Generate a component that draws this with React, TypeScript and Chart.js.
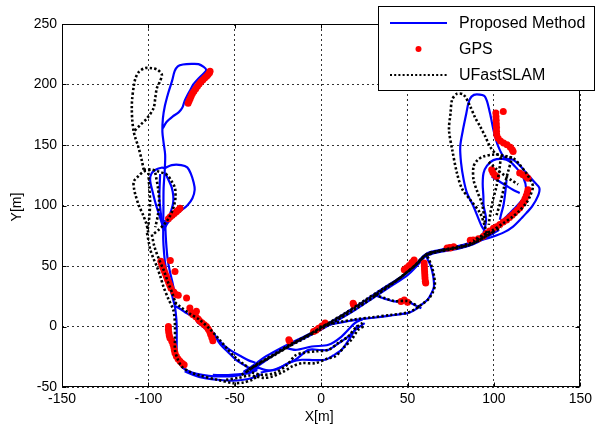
import React, { useEffect, useRef } from 'react';
import { Chart, registerables } from 'chart.js';
Chart.register(...registerables);

type P = [number, number];

// ---- axis / legend texts ----
const xTicks = [-150, -100, -50, 0, 50, 100, 150];
const yTicks = [-50, 0, 50, 100, 150, 200, 250];
const legendLabels = ['Proposed Method', 'GPS', 'UFastSLAM'];
const xTitle = 'X[m]';
const yTitle = 'Y[m]';

// ---- Proposed Method (blue) ----
const blueTopLoop: P[] = [[-91.5,80],[-91.3,95],[-91.2,114],[-90.5,130],[-90.3,142],[-91.2,152],[-91.9,161],[-91.6,172],[-90.5,182],[-88.5,193],[-86.3,203],[-84.8,211],[-83,215],[-80,216.5],[-75,217],[-71,216.8],[-68,214.5],[-66.5,212],[-68,209],[-71,205],[-74,200],[-75.5,196],[-77.5,191],[-79,186.5],[-80.3,181],[-82.5,177],[-86,173.5],[-89.5,169],[-91.6,164]];
const blueMidLoop: P[] = [[-90.4,131],[-86.5,133.4],[-81,133.4],[-77.5,131.5],[-75.5,126.5],[-73.8,119],[-73.2,113],[-74.5,106],[-77.5,100],[-81,96],[-84.5,92.5],[-87.5,88],[-90,83],[-91.3,79]];
const blueSmallLoop: P[] = [[-91.2,81],[-93,89],[-95.5,100],[-97.5,111],[-99,121],[-98.2,126.5],[-95.5,129.8],[-92.5,131.2],[-90.4,131]];
const blueInnerA: P[] = [[-93.2,126],[-93.5,115],[-93.6,106],[-93,96],[-92.2,87],[-91.5,80]];
const blueInnerB: P[] = [[-90.3,127],[-88,120],[-86.5,115],[-85.6,108],[-85.7,102],[-87,95],[-88.8,88],[-90.5,82]];
const blueLeftDownA: P[] = [[-91.4,80],[-91.4,72],[-91,62],[-90.3,52],[-89,42],[-87.5,33],[-85.8,23],[-84.6,16],[-83.8,6],[-83.6,-2],[-83.6,-12],[-83.6,-22],[-82.6,-28],[-80.8,-33],[-77,-36.8],[-72,-39.2],[-65,-40.8],[-58.8,-41.3],[-50,-40.8],[-41.6,-37.5],[-36,-34]];
const blueLeftDownB: P[] = [[-90.3,88],[-90,76],[-89.5,65],[-88.8,55],[-87.5,45],[-86,36],[-84.6,26]];
const blueDiagA: P[] = [[-84.6,17],[-81,14],[-77.9,11],[-72,6],[-66.4,0],[-62,-6],[-58.8,-14],[-54,-21],[-49.3,-27.5],[-45,-31.5],[-41.6,-34.4]];
const blueDiagB: P[] = [[-72,4],[-66,-3],[-61,-9],[-56,-16],[-51,-21],[-46,-25],[-42,-28],[-38,-30]];
const blueBottomA: P[] = [[-79,-37],[-74,-40],[-68,-42.5],[-60,-44],[-51.2,-44.7],[-45,-44],[-40,-42.5],[-35,-39.5]];
const blueBottomB: P[] = [[-62.7,-40],[-55,-40.2],[-48,-39.5],[-41.6,-38.5],[-37,-36]];
const blueMain: P[] = [[-45,-37.5],[-41.6,-34.5],[-38,-31],[-34,-26.5],[-28,-21.5],[-18.7,-14.5],[-10,-8.5],[0.4,-0.5],[10,7.5],[19.5,16],[26,22],[30.9,26.8],[38,33.5],[46.2,41],[50.5,46],[54,50.5],[57,55],[59.6,58.8],[62,61],[65.3,62.3],[72,64.3],[78.6,66.3],[84,68.2],[88.2,70.2],[92,73.5],[95.8,77.2]];
const blueMain2: P[] = [[-40,-36],[-30,-26],[-20,-17],[-10,-10],[0,-2.5],[10,5.5],[20,14],[30,23.5],[40,33],[50,42.5],[56,51],[60,57.5],[64,60],[72,62.5],[80,64.5],[88,68],[96,74],[103,80]];
const blueLoop1: P[] = [[-38,-33],[-32,-36],[-26.3,-35.8],[-20,-31],[-14.9,-27.5],[-7.3,-19.3],[0,-19.5],[4.2,-19.3],[10,-14],[15.6,-8.3],[20,-2.5],[25.2,2.8]];
const blueLoop2: P[] = [[-35,-38],[-28,-36],[-22.6,-33],[-17,-29],[-11.1,-27.5],[-4,-27.8],[2.3,-27.5],[7,-24],[11.8,-19.3],[16,-11],[19.5,-2.7],[21,1]];
const blueLoop3: P[] = [[-22,-17],[-14.9,-19.3],[-5.4,-16.5],[4.2,-15.1],[11.8,-8.3],[19.5,2.8],[24,6]];
const blueLower: P[] = [[-2,-1.5],[5,1.5],[10,3],[20,5.5],[29,7],[40,9],[50,11],[54,13.5],[58,18],[61.5,22],[64,28],[65.3,33],[64.8,42],[63.5,49.6],[61.8,55],[60.5,59]];
const blueTriangle: P[] = [[30.9,26],[36.7,23],[42.4,20.7],[50,20.5],[55.7,16.5],[58,15]];
const blueTall: P[] = [[95.8,77.2],[93,82.6],[88.2,99.2],[84.5,110],[82.5,121.2],[81,135],[80.5,148.8],[82,162],[84,176],[85.3,185],[87,190],[90.1,191.8],[94.8,190],[97.7,176.4],[99.7,162.6],[102.5,148.8],[106.3,139.2],[111.1,137.8],[115,133],[118.7,126.8],[123,120],[126.3,114.4],[125.5,108],[122,99],[118.7,93.7],[115,88],[111.1,82.6],[106,78],[99.7,74.4],[94,72],[88.2,70.2]];
const blueSmallR: P[] = [[93.9,77],[95.5,88.2],[94,100],[93.9,107.4],[93.5,118],[94,126.8],[96,133],[99.7,137.5],[105,138.5],[109.2,136.4],[113,131],[116.8,124],[118.7,113],[117,106],[113,99.2],[108,92],[103.4,85.5],[98,80],[93.9,77]];
const blueInnerR1: P[] = [[98.7,124],[103,120],[107,116.5],[111,113],[114.9,110.2]];
const blueInnerR2: P[] = [[107.3,121.2],[106.5,110],[105.5,100],[104.2,93],[103.4,88.2]];

// ---- UFastSLAM (black dotted) ----
const blackTopLoop: P[] = [[-102.7,129.5],[-103.7,136.4],[-105.6,147.4],[-107.5,155.7],[-108.5,161],[-109.3,170],[-109.6,180],[-109.4,188],[-108.5,198.3],[-107.5,205],[-105.5,210.5],[-102,213.5],[-98,213.5],[-94.5,212],[-92.2,208],[-93.5,202],[-95.1,197],[-96,189],[-97,180.5],[-100.8,172],[-104.6,166.7],[-108.5,161]];
const blackMidLoop: P[] = [[-98.9,129.5],[-102.7,128],[-106,124],[-108.5,119.8],[-108.3,114],[-107.5,108.8],[-105.5,100],[-103,92],[-101,84],[-100,77]];
const blackMidRight: P[] = [[-102.7,129.5],[-98.9,129.8],[-94,128],[-89.3,125.4],[-86.5,120],[-84.6,114.4],[-84.3,108],[-84.6,103.3],[-86,96],[-88,90],[-90.5,85],[-94,80],[-97.5,76]];
const blackInner1: P[] = [[-100,127],[-99.5,115],[-99,103],[-99.5,90],[-100.5,79]];
const blackInner2: P[] = [[-96,127],[-94.5,115],[-93.8,104],[-94.5,92],[-96,82]];
const blackLeftDown: P[] = [[-100.8,77.2],[-99.8,70],[-98.9,63.4],[-97,56],[-95.1,49.6],[-93,41],[-91.3,33],[-88.5,23],[-85.6,13.8],[-84.8,6],[-84.6,0],[-84.6,-10],[-84.6,-19.3],[-83.3,-26],[-80.8,-33],[-76,-37.5],[-70.3,-40.5],[-60,-44],[-51.2,-46.8],[-45,-46.3],[-40,-44],[-36,-40]];
const blackLeftDown2: P[] = [[-98,76],[-96.5,66],[-94,56],[-91,46],[-88.5,36],[-86,27],[-84,18]];
const blackDiag: P[] = [[-84.6,20],[-81.7,16.5],[-76,10.5],[-70.3,5.5],[-64.5,-2],[-58.8,-11],[-54,-19],[-49,-26.5],[-45,-31],[-41,-35]];
const blackBottomA: P[] = [[-55,-44],[-48,-42.5],[-41.6,-40.5],[-37.8,-41.3],[-33,-42.5],[-28.3,-41.3],[-22,-37.5],[-16.8,-33],[-11.1,-30.3],[-3.4,-30.3],[4.2,-26.2],[8,-24.8],[13.7,-16.5],[17.5,-11],[21.4,-2.7],[25.2,0.5]];
const blackBottomB: P[] = [[-40,-38],[-34,-40],[-27,-38.5],[-20,-32],[-15,-24],[-11.1,-22],[-3,-20.5],[4.2,-19.3],[10,-13.5],[15.6,-8.3],[20,-1],[24,3]];
const blackMain: P[] = [[-46,-40],[-41.6,-36],[-37,-31],[-32,-27],[-25,-21],[-18.7,-15.5],[-10,-9],[0,-1],[10,7],[19.5,15.5],[25,20.5],[30.9,25.8],[38,32.5],[46,40.5],[51,46.5],[55,51.5],[58,56],[61.5,60.3],[66,62],[72,63.8],[78.6,65.8],[84,67.8],[88.5,70],[92,73],[95.8,77]];
const blackMain2: P[] = [[-40,-34],[-30,-25.5],[-20,-17.5],[-10,-10],[0,-2],[10,6],[20,14.5],[30,24],[40,34],[48,43],[54,50],[58.5,56.5],[62,59.5],[68,61.8],[76,64],[84,66.5],[90,70],[97,76],[104,82]];
const blackMain3: P[] = [[-43,-37],[-35,-30],[-25,-22],[-15,-13],[-5,-5],[5,3.5],[15,12],[25,21.5],[35,30.5],[45,39.5],[52,47.5],[57,54],[60,58.5],[64,61],[70,63],[78,65],[86,67.5],[93,72.5],[100,78.5]];
const blackLower: P[] = [[-1,-0.5],[5,2],[10,3.5],[20,6],[29,7.5],[40,9.5],[50,11.5],[54,14],[58,18],[62,22.5],[64.5,28],[65.8,34],[65.3,42],[64,49.6],[62.5,55],[61,59.5]];
const blackTriangle: P[] = [[30.9,26],[36.7,23.5],[42.4,21],[50,21],[55.7,17],[58,15.5]];
const blackTall: P[] = [[95.8,77],[94.8,82.6],[92,93.7],[86.3,104.7],[81.5,114],[78.6,126.8],[76,145],[74,162.6],[74.9,176.4],[75.8,187.4],[78.6,192.3],[82.5,191.5],[86.3,181.8],[89,173],[92,165.3],[95,157],[97.7,148.8],[101,143],[105.4,140.5],[111.1,139.2],[115,133.5],[118.7,126.8],[121.5,120],[122.6,115.7],[121,108],[118.7,102],[115,96],[111.1,91],[105,85],[99.7,80],[93,75],[88,71]];
const blackMidR: P[] = [[94.8,86],[93,102],[90.5,111],[88.2,121.2],[88.2,132.2],[90.5,137.5],[93.9,140.5],[99,142],[103.4,141.9],[108,140.5],[111.1,139.2]];
const blackInnerR1: P[] = [[97,136],[101.5,130],[106,125],[110,121],[114,117.5]];
const blackInnerR2: P[] = [[104,140],[103,128],[101.5,116],[99.5,105],[98,94],[97,84]];
const blackInnerR3: P[] = [[110,137],[108,127],[106,116],[104,104],[101.5,92]];

// ---- GPS (red dots) ----
const gpsTopLeft: P[] = [[-77,184.6],[-76.4,186.5],[-75.8,188.5],[-75.2,190.5],[-74.5,192.5],[-73.6,194.5],[-72.6,196.5],[-71.6,198.5],[-70.6,200.5],[-69.6,202.2],[-68.5,203.8],[-67.4,205.3],[-66.3,206.8],[-65.4,208.3],[-64.6,209.8],[-64.3,211]];
const gpsMidLeft: P[] = [[-88.4,89],[-87.3,90.6],[-86.2,92],[-85,93.4],[-83.8,94.8],[-82.7,96.3],[-81.7,97.8]];
const gpsLeft: P[] = [[-92.8,54],[-92.3,51.5],[-91.7,49],[-91,46.5],[-90.3,44],[-89.6,41.5],[-89,39],[-88.3,36.5],[-87.6,34],[-86.9,31.7],[-87.3,54.5],[-84.6,45.5],[-85.3,28.5],[-84,26.5],[-82.7,25.8],[-77.9,23.5],[-76,15.2],[-72.2,12.6],[-75,11.2],[-74.1,9.7],[-72.5,8.1],[-71.2,6.3],[-70.3,4.5],[-69,3],[-67.6,1.5],[-66.4,0],[-65.4,-2],[-64.6,-4],[-64,-6.5],[-63.3,-9],[-62.7,-11.8]];
const gpsLeftLow: P[] = [[-88.4,0],[-88.4,-2.5],[-88.2,-5],[-87.9,-7.5],[-87.5,-9.6],[-86.5,-12],[-85.8,-14.5],[-85.3,-17],[-85,-19.5],[-84.6,-22],[-83.8,-24.5],[-82.8,-26.8],[-81.7,-28.8],[-80.5,-30.3],[-79.3,-31.6]];
const gpsMiddle: P[] = [[-18.7,-11],[-18.2,-12.3],[-4.4,-4.1],[-3,-3],[-1.5,-1.4],[0.4,0.5],[2.3,2.8],[18.5,19.3],[18.8,18],[46.2,20.7],[48.1,22],[50,20],[48.1,46.9],[49.5,48.5],[51,50.5],[52.5,52.8],[53.8,55],[59.6,52.4],[59.7,50],[59.8,47.5],[59.9,45],[60,42.5],[60.1,40],[60.3,37.5],[60.5,35.9],[72.9,64.8],[74.5,65.3],[76.7,66]];
const gpsRight: P[] = [[101.1,176.4],[101.2,173.4],[101.3,170.4],[101.4,167.4],[101.5,164.4],[101.5,161.4],[101.6,158.4],[102.4,155.6],[103.8,153.3],[105.6,151.6],[107.6,150.2],[109.5,148.2],[110.6,146],[111.1,144.6],[105.4,177.7],[98.7,129.5],[99.4,127.3],[100.4,125.3],[101.6,124],[114.9,126.8],[116.8,125.5],[118.5,124],[119.7,122.6],[119.7,113],[119.3,110.5],[118.7,108],[118,105.5],[117.2,103],[116.8,102],[115.5,99.5],[114.9,98],[113.5,96],[112,94],[110.5,92],[109,90],[107.3,88],[105.4,86.3],[103.4,84.2],[101.5,82.5],[99.7,81.2],[97.5,79],[95.5,76.8],[93.9,74.5],[91,72.5],[88,71.5],[86.3,71.2],[74.8,64.8]];

const bluePaths: P[][] = [blueTopLoop, blueMidLoop, blueSmallLoop, blueInnerA, blueInnerB, blueLeftDownA, blueLeftDownB, blueDiagA, blueDiagB, blueBottomA, blueBottomB, blueMain, blueMain2, blueLoop1, blueLoop2, blueLoop3, blueLower, blueTriangle, blueTall, blueSmallR, blueInnerR1, blueInnerR2];
const blackPaths: P[][] = [blackTopLoop, blackMidLoop, blackMidRight, blackInner1, blackInner2, blackLeftDown, blackLeftDown2, blackDiag, blackBottomA, blackBottomB, blackMain, blackMain2, blackMain3, blackLower, blackTriangle, blackTall, blackMidR, blackInnerR1, blackInnerR2, blackInnerR3];
const gpsPoints: P[] = [...gpsTopLeft, ...gpsMidLeft, ...gpsLeft, ...gpsLeftLow, ...gpsMiddle, ...gpsRight];

const FONT = '"Liberation Sans", Arial, sans-serif';
const BLUE = '#0000ff';
const RED = '#ff0000';

const toXY = (p: P[]) => p.map(([x, y]) => ({ x, y }));

const decoPlugin = {
  id: 'deco',
  afterDatasetsDraw(chart: any) {
    const { ctx, chartArea: a, scales } = chart;
    ctx.save();
    ctx.strokeStyle = '#000';
    ctx.lineWidth = 1;
    const L = Math.round(a.left) + 0.5, R = Math.round(a.right) - 0.5;
    const T = Math.round(a.top) + 0.5, B = Math.round(a.bottom) - 0.5;
    ctx.strokeRect(L, T, R - L, B - T);
    ctx.beginPath();
    for (const v of xTicks) {
      const px = Math.round(scales.x.getPixelForValue(v)) + 0.5;
      ctx.moveTo(px, B); ctx.lineTo(px, B - 4);
      ctx.moveTo(px, T); ctx.lineTo(px, T + 4);
    }
    for (const v of yTicks) {
      const py = Math.round(scales.y.getPixelForValue(v)) + 0.5;
      ctx.moveTo(L, py); ctx.lineTo(L + 4, py);
      ctx.moveTo(R, py); ctx.lineTo(R - 4, py);
    }
    ctx.stroke();
    ctx.fillStyle = '#000';
    ctx.font = `14px ${FONT}`;
    ctx.textAlign = 'center';
    ctx.textBaseline = 'middle';
    ctx.fillText(xTitle, (a.left + a.right) / 2 - 2, 417);
    ctx.save();
    ctx.translate(17.5, (a.top + a.bottom) / 2 + 1.5);
    ctx.rotate(-Math.PI / 2);
    ctx.fillText(yTitle, 0, 0);
    ctx.restore();
    ctx.restore();
  },
  afterDraw(chart: any) {
    const { ctx } = chart;
    ctx.save();
    const bx = 378.5, by = 6.5, bw = 216, bh = 84;
    ctx.fillStyle = '#fff';
    ctx.fillRect(bx, by, bw, bh);
    ctx.strokeStyle = '#000';
    ctx.lineWidth = 1;
    ctx.strokeRect(bx, by, bw, bh);
    const rows = [23, 49, 75];
    ctx.strokeStyle = BLUE; ctx.lineWidth = 2;
    ctx.beginPath(); ctx.moveTo(390, rows[0]); ctx.lineTo(447, rows[0]); ctx.stroke();
    ctx.fillStyle = RED;
    ctx.beginPath(); ctx.arc(418.5, rows[1], 3, 0, Math.PI * 2); ctx.fill();
    ctx.strokeStyle = '#000'; ctx.lineWidth = 2.2; ctx.setLineDash([2, 2.2]);
    ctx.beginPath(); ctx.moveTo(390, rows[2]); ctx.lineTo(447, rows[2]); ctx.stroke();
    ctx.setLineDash([]);
    ctx.fillStyle = '#000';
    ctx.font = `16px ${FONT}`;
    ctx.textAlign = 'left';
    ctx.textBaseline = 'middle';
    legendLabels.forEach((t, i) => ctx.fillText(t, 459, rows[i] + 1));
    ctx.restore();
  },
};

export default function App() {
  const ref = useRef<HTMLCanvasElement>(null);
  useEffect(() => {
    document.body.style.margin = '0';
    if (!ref.current) return;
    const datasets: any[] = [
      ...blackPaths.map((p) => ({
        data: toXY(p), showLine: true, borderColor: '#000', borderWidth: 2.6,
        borderDash: [2.3, 2.2], pointRadius: 0, pointHitRadius: 0, tension: 0.3, order: 0,
      })),
      {
        data: toXY(gpsPoints), showLine: false, pointRadius: 3.5, pointBackgroundColor: RED,
        pointBorderWidth: 0, borderColor: RED, order: 1,
      },
      ...bluePaths.map((p) => ({
        data: toXY(p), showLine: true, borderColor: BLUE, borderWidth: 2.2,
        pointRadius: 0, pointHitRadius: 0, tension: 0.3, order: 2,
      })),
    ];
    const chart = new Chart(ref.current, {
      type: 'scatter',
      data: { datasets },
      options: {
        animation: false,
        responsive: false,
        devicePixelRatio: 1,
        events: [],
        layout: { padding: { left: 0, right: 12, top: 24, bottom: 0 } },
        plugins: { legend: { display: false }, tooltip: { enabled: false }, title: { display: false } },
        scales: {
          x: {
            type: 'linear', min: -150, max: 150,
            afterBuildTicks: (s: any) => { s.ticks = xTicks.map((v) => ({ value: v })); },
            afterFit: (s: any) => { s.height = 41; },
            ticks: { color: '#000', font: { family: FONT, size: 14 }, padding: 4, maxRotation: 0, autoSkip: false },
            grid: { color: '#333', lineWidth: 1, drawTicks: false },
            border: { display: false, dash: [2, 3] },
          },
          y: {
            type: 'linear', min: -50, max: 250,
            afterBuildTicks: (s: any) => { s.ticks = yTicks.map((v) => ({ value: v })); },
            afterFit: (s: any) => { s.width = 62; },
            ticks: { color: '#000', font: { family: FONT, size: 14 }, padding: 5, autoSkip: false },
            grid: { color: '#333', lineWidth: 1, drawTicks: false },
            border: { display: false, dash: [2, 3] },
          },
        },
      },
      plugins: [decoPlugin],
    } as any);
    return () => chart.destroy();
  }, []);
  return <canvas ref={ref} width={596} height={428} style={{ display: 'block' }} />;
}
